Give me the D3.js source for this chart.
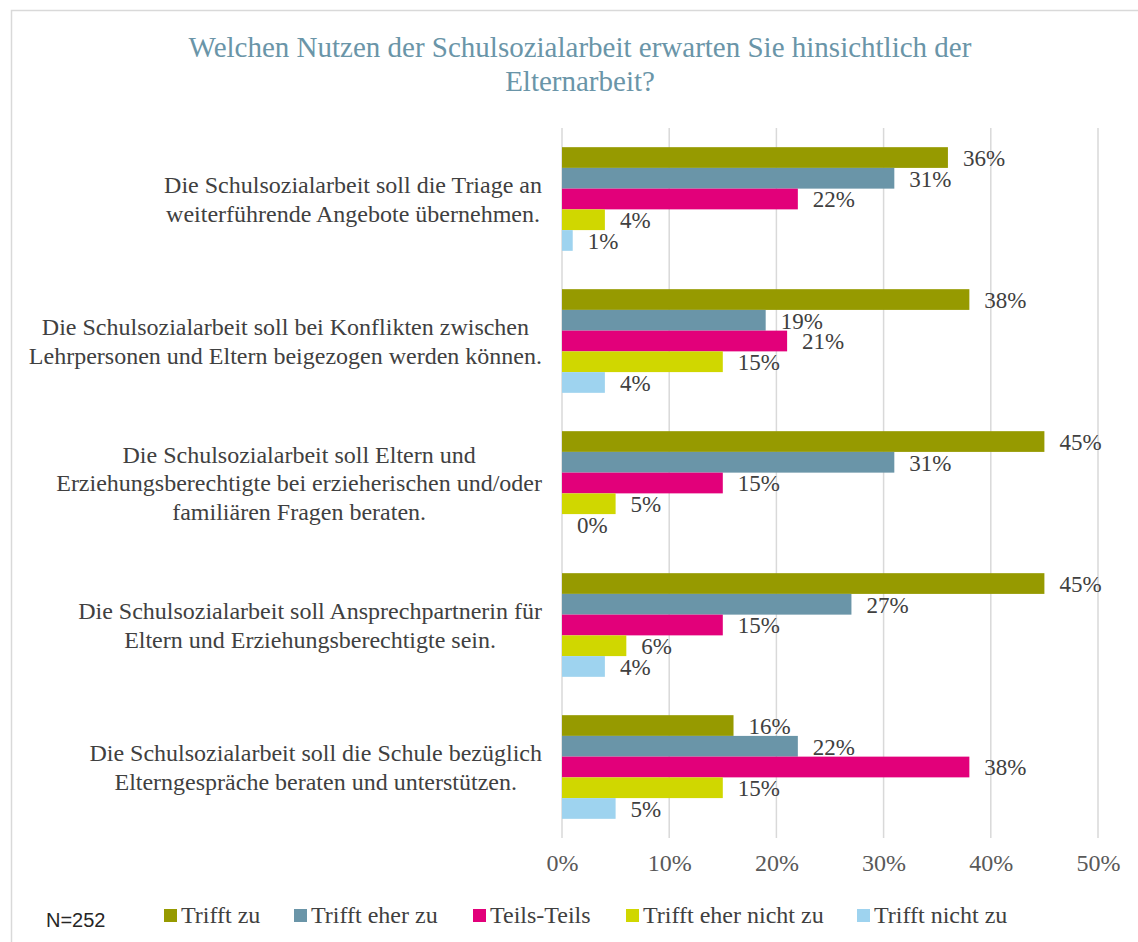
<!DOCTYPE html>
<html>
<head>
<meta charset="utf-8">
<script src="https://cdn.jsdelivr.net/npm/d3@7"></script>
<style>
  html, body { margin: 0; padding: 0; background: #fff; }
  svg { display: block; }
</style>
</head>
<body>
<svg id="chart" width="1138" height="942"></svg>
<script>
const titleLines = ["Welchen Nutzen der Schulsozialarbeit erwarten Sie hinsichtlich der", "Elternarbeit?"];
const categories = [
  ["Die Schulsozialarbeit soll die Triage an", "weiterführende Angebote übernehmen."],
  ["Die Schulsozialarbeit soll bei Konflikten zwischen", "Lehrpersonen und Eltern beigezogen werden können."],
  ["Die Schulsozialarbeit soll Eltern und", "Erziehungsberechtigte bei erzieherischen und/oder", "familiären Fragen beraten."],
  ["Die Schulsozialarbeit soll Ansprechpartnerin für", "Eltern und Erziehungsberechtigte sein."],
  ["Die Schulsozialarbeit soll die Schule bezüglich", "Elterngespräche beraten und unterstützen."]
];
const seriesNames = ["Trifft zu", "Trifft eher zu", "Teils-Teils", "Trifft eher nicht zu", "Trifft nicht zu"];
const seriesColors = ["#969a00", "#6a95a8", "#e2007a", "#d0d700", "#9ed3ef"];
const trifftZu        = [36, 38, 45, 45, 16];
const trifftEherZu    = [31, 19, 31, 27, 22];
const teilsTeils      = [22, 21, 15, 15, 38];
const trifftEherNicht = [4, 15, 5, 6, 15];
const trifftNicht     = [1, 4, 0, 4, 5];
const seriesValues = [trifftZu, trifftEherZu, teilsTeils, trifftEherNicht, trifftNicht];
const xTicks = [0, 10, 20, 30, 40, 50];
const sampleNote = "N=252";

const svg = d3.select("#chart");
const serif = "'Liberation Serif', 'Times New Roman', serif";

// chart border
svg.append("path")
  .attr("d", "M11.5,942 L11.5,10.5 L1138,10.5")
  .attr("fill", "none").attr("stroke", "#d9d9d9").attr("stroke-width", 1.5);

// title
svg.append("text")
  .attr("x", 580).attr("y", 57)
  .attr("text-anchor", "middle")
  .attr("font-family", serif).attr("font-size", 29)
  .attr("fill", "#6a95a8")
  .selectAll("tspan").data(titleLines).join("tspan")
  .attr("x", 580).attr("dy", (d, i) => i === 0 ? 0 : 34)
  .text(d => d);

const plotLeft = 562, plotRight = 1098, plotTop = 128, plotBottom = 838;

const x = d3.scaleLinear().domain([0, 50]).range([plotLeft, plotRight]);
const y0 = d3.scaleBand().domain(d3.range(categories.length)).range([plotTop, plotBottom])
  .paddingInner(0.27).paddingOuter(0.135);
const y1 = d3.scaleBand().domain(d3.range(seriesNames.length)).range([0, y0.bandwidth()]);

// gridlines
svg.append("g").selectAll("line").data(xTicks).join("line")
  .attr("x1", d => x(d)).attr("x2", d => x(d))
  .attr("y1", plotTop).attr("y2", plotBottom)
  .attr("stroke", "#d9d9d9").attr("stroke-width", 1.5);

// x axis labels
const xAxis = d3.axisBottom(x).tickValues(xTicks).tickFormat(d => d + "%").tickSize(0);
const xg = svg.append("g").attr("transform", `translate(0,${plotBottom})`).call(xAxis);
xg.select(".domain").remove();
xg.selectAll("text").attr("y", 33).attr("dy", 0)
  .attr("font-family", serif).attr("font-size", 24).attr("fill", "#595959");

// bars
const groups = svg.append("g").selectAll("g").data(categories.map((c, i) => i)).join("g")
  .attr("transform", i => `translate(0,${y0(i)})`);

groups.each(function(ci) {
  const g = d3.select(this);
  const vals = seriesValues.map((s, si) => ({ si, v: s[ci] }));
  g.selectAll("rect").data(vals).join("rect")
    .attr("x", x(0))
    .attr("y", d => y1(d.si))
    .attr("width", d => x(d.v) - x(0))
    .attr("height", y1.bandwidth())
    .attr("fill", d => seriesColors[d.si]);
  g.selectAll("text.val").data(vals).join("text")
    .attr("class", "val")
    .attr("x", d => x(d.v) + 15)
    .attr("y", d => y1(d.si) + y1.bandwidth() / 2)
    .attr("dy", "0.36em")
    .attr("font-family", serif).attr("font-size", 23)
    .attr("fill", "#404040")
    .text(d => d.v + "%");
});

// category labels: lines centred within a block right-aligned to the label area edge
const lineH = 28.8;
const labelRight = 542;
svg.append("g").selectAll("text").data(categories).join("text")
  .attr("text-anchor", "middle")
  .attr("font-family", serif).attr("font-size", 24)
  .attr("fill", "#404040")
  .each(function(lines, i) {
    const t = d3.select(this);
    const cy = y0(i) + y0.bandwidth() / 2;
    const start = cy - (lines.length - 1) * lineH / 2;
    const spans = t.selectAll("tspan").data(lines).join("tspan")
      .attr("x", 0)
      .attr("y", (d, j) => start + j * lineH)
      .attr("dy", "0.35em")
      .text(d => d);
    let maxW = 0;
    spans.each(function() { maxW = Math.max(maxW, this.getComputedTextLength()); });
    spans.attr("x", labelRight - maxW / 2);
  });

// N note
svg.append("text")
  .attr("x", 46).attr("y", 927)
  .attr("font-family", "'Liberation Sans', Arial, sans-serif").attr("font-size", 20)
  .attr("fill", "#262626")
  .text(sampleNote);

// legend
const legendX = [164, 294, 473, 626, 857];
const lg = svg.append("g").selectAll("g").data(seriesNames).join("g")
  .attr("transform", (d, i) => `translate(${legendX[i]},915)`);
lg.append("rect").attr("x", 0).attr("y", -6).attr("width", 13).attr("height", 13)
  .attr("fill", (d, i) => seriesColors[i]);
lg.append("text").attr("x", 17).attr("y", 8)
  .attr("font-family", serif).attr("font-size", 24).attr("fill", "#404040")
  .text(d => d);
</script>
</body>
</html>
